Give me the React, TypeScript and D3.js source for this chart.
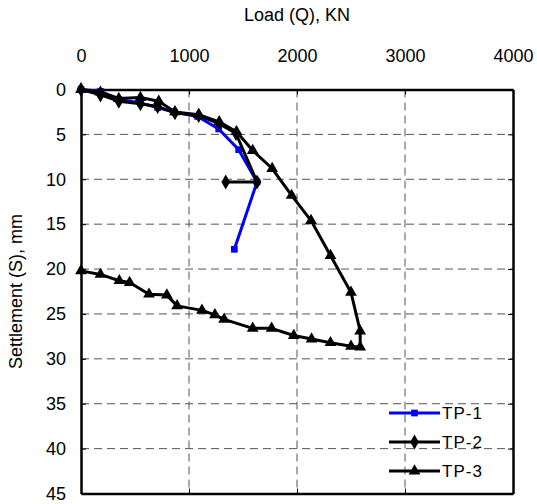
import { useEffect, useRef } from "react";
import * as d3 from "d3";

// axis ticks
const xTicks = [0, 1000, 2000, 3000, 4000];
const yTicks = [0, 5, 10, 15, 20, 25, 30, 35, 40, 45];

// TP-1 (blue, squares)
const tp1Load = [0, 180, 350, 550, 710, 860, 1080, 1275, 1460, 1630, 1420];
const tp1Settle = [0, 0.2, 1.1, 1.5, 2.0, 2.5, 3.0, 4.4, 6.7, 10.3, 17.8];

// TP-2 (black, diamonds)
const tp2Load = [0, 180, 350, 550, 710, 870, 1090, 1280, 1435, 1630, 1340];
const tp2Settle = [0, 0.6, 1.3, 1.6, 1.9, 2.6, 2.9, 3.8, 4.9, 10.3, 10.3];

// TP-3 (black, triangles)
const tp3Load = [
  0, 180, 350, 550, 720, 870, 1090, 1280, 1440, 1590, 1770, 1950, 2130, 2310, 2500, 2585,
  2585, 2500, 2310, 2135, 1970, 1765, 1590, 1325, 1240, 1120, 890, 795, 630, 450, 355, 180, 0,
];
const tp3Settle = [
  0, 0.3, 1.0, 0.9, 1.3, 2.5, 2.8, 3.6, 4.7, 6.8, 8.8, 11.8, 14.6, 18.5, 22.6, 26.9,
  28.7, 28.6, 28.2, 27.8, 27.4, 26.6, 26.6, 25.6, 25.1, 24.6, 24.1, 22.9, 22.8, 21.5, 21.3, 20.6, 20.2,
];

const seriesNames = ["TP-1", "TP-2", "TP-3"];

const App = () => {
  const ref = useRef<SVGSVGElement>(null);

  useEffect(() => {
    const width = 537;
    const height = 504;
    const m = { top: 89.5, left: 81, right: 24, bottom: 10.5 };
    const font = "'Liberation Sans', Arial, sans-serif";
    const fs = 18;

    const svg = d3.select(ref.current);
    svg.selectAll("*").remove();

    const x = d3.scaleLinear().domain([0, 4000]).range([m.left, width - m.right]);
    const y = d3.scaleLinear().domain([0, 45]).range([m.top, height - m.bottom]);

    // grid
    svg.append("g")
      .selectAll("line")
      .data(xTicks.slice(1, -1))
      .join("line")
      .attr("x1", d => x(d)).attr("x2", d => x(d))
      .attr("y1", y(0)).attr("y2", y(45))
      .attr("stroke", "#555").attr("stroke-width", 1).attr("stroke-dasharray", "8,5");
    svg.append("g")
      .selectAll("line")
      .data(yTicks.slice(1, -1))
      .join("line")
      .attr("x1", x(0)).attr("x2", x(4000))
      .attr("y1", d => y(d)).attr("y2", d => y(d))
      .attr("stroke", "#555").attr("stroke-width", 1).attr("stroke-dasharray", "8,5");

    // axes (ticks inside, mirrored)
    const fmt = d3.format("d");
    const top = svg.append("g").attr("transform", `translate(0,${y(0)})`)
      .call(d3.axisTop(x).tickValues(xTicks).tickFormat(fmt).tickSizeInner(-5).tickSizeOuter(0).tickPadding(28));
    const bottom = svg.append("g").attr("transform", `translate(0,${y(45)})`)
      .call(d3.axisBottom(x).tickValues(xTicks).tickSizeInner(-5).tickSizeOuter(0).tickFormat(() => ""));
    const left = svg.append("g").attr("transform", `translate(${x(0)},0)`)
      .call(d3.axisLeft(y).tickValues(yTicks).tickFormat(fmt).tickSizeInner(-5).tickSizeOuter(0).tickPadding(15));
    const right = svg.append("g").attr("transform", `translate(${x(4000)},0)`)
      .call(d3.axisRight(y).tickValues(yTicks).tickSizeInner(-5).tickSizeOuter(0).tickFormat(() => ""));
    [top, bottom, left, right].forEach(g => {
      g.select(".domain").attr("stroke", "#000").attr("stroke-width", 2.5);
      g.selectAll(".tick line").attr("stroke", "#000").attr("stroke-width", 1);
      g.selectAll("text").attr("font-family", font).attr("font-size", fs).attr("fill", "#000");
    });

    const series = [
      { load: tp1Load, settle: tp1Settle, color: "#0000ff", symbol: d3.symbolSquare, size: 45 },
      { load: tp2Load, settle: tp2Settle, color: "#000", symbol: d3.symbolDiamond, size: 65 },
      { load: tp3Load, settle: tp3Settle, color: "#000", symbol: d3.symbolTriangle, size: 60 },
    ];

    series.forEach(s => {
      const pts = s.load.map((q, i) => [x(q), y(s.settle[i])] as [number, number]);
      svg.append("path")
        .attr("d", d3.line()(pts))
        .attr("fill", "none").attr("stroke", s.color).attr("stroke-width", 3)
        .attr("stroke-linejoin", "round");
      svg.append("g")
        .selectAll("path")
        .data(pts)
        .join("path")
        .attr("transform", d => `translate(${d[0]},${d[1]})`)
        .attr("d", d3.symbol().type(s.symbol).size(s.size)())
        .attr("fill", s.color);
    });

    // legend
    const lg = svg.append("g");
    series.forEach((s, i) => {
      const ly = 413 + i * 29;
      lg.append("line")
        .attr("x1", 389).attr("x2", 440).attr("y1", ly).attr("y2", ly)
        .attr("stroke", s.color).attr("stroke-width", 3);
      lg.append("path")
        .attr("transform", `translate(414.5,${ly})`)
        .attr("d", d3.symbol().type(s.symbol).size(s.size)())
        .attr("fill", s.color);
      lg.append("text")
        .attr("x", 442).attr("y", ly + 6)
        .attr("font-family", font).attr("font-size", 17)
        .attr("letter-spacing", 1)
        .text(seriesNames[i]);
    });

    // axis titles
    svg.append("text")
      .attr("x", (x(0) + x(4000)) / 2).attr("y", 21)
      .attr("text-anchor", "middle")
      .attr("font-family", font).attr("font-size", fs)
      .text("Load (Q), KN");
    svg.append("text")
      .attr("transform", `translate(22,${(y(0) + y(45)) / 2}) rotate(-90)`)
      .attr("text-anchor", "middle")
      .attr("font-family", font).attr("font-size", fs)
      .text("Settlement (S), mm");
  }, []);

  return (
    <svg
      ref={ref}
      width={537}
      height={504}
      style={{ position: "absolute", left: 0, top: 0, background: "#fff" }}
    />
  );
};

export default App;
